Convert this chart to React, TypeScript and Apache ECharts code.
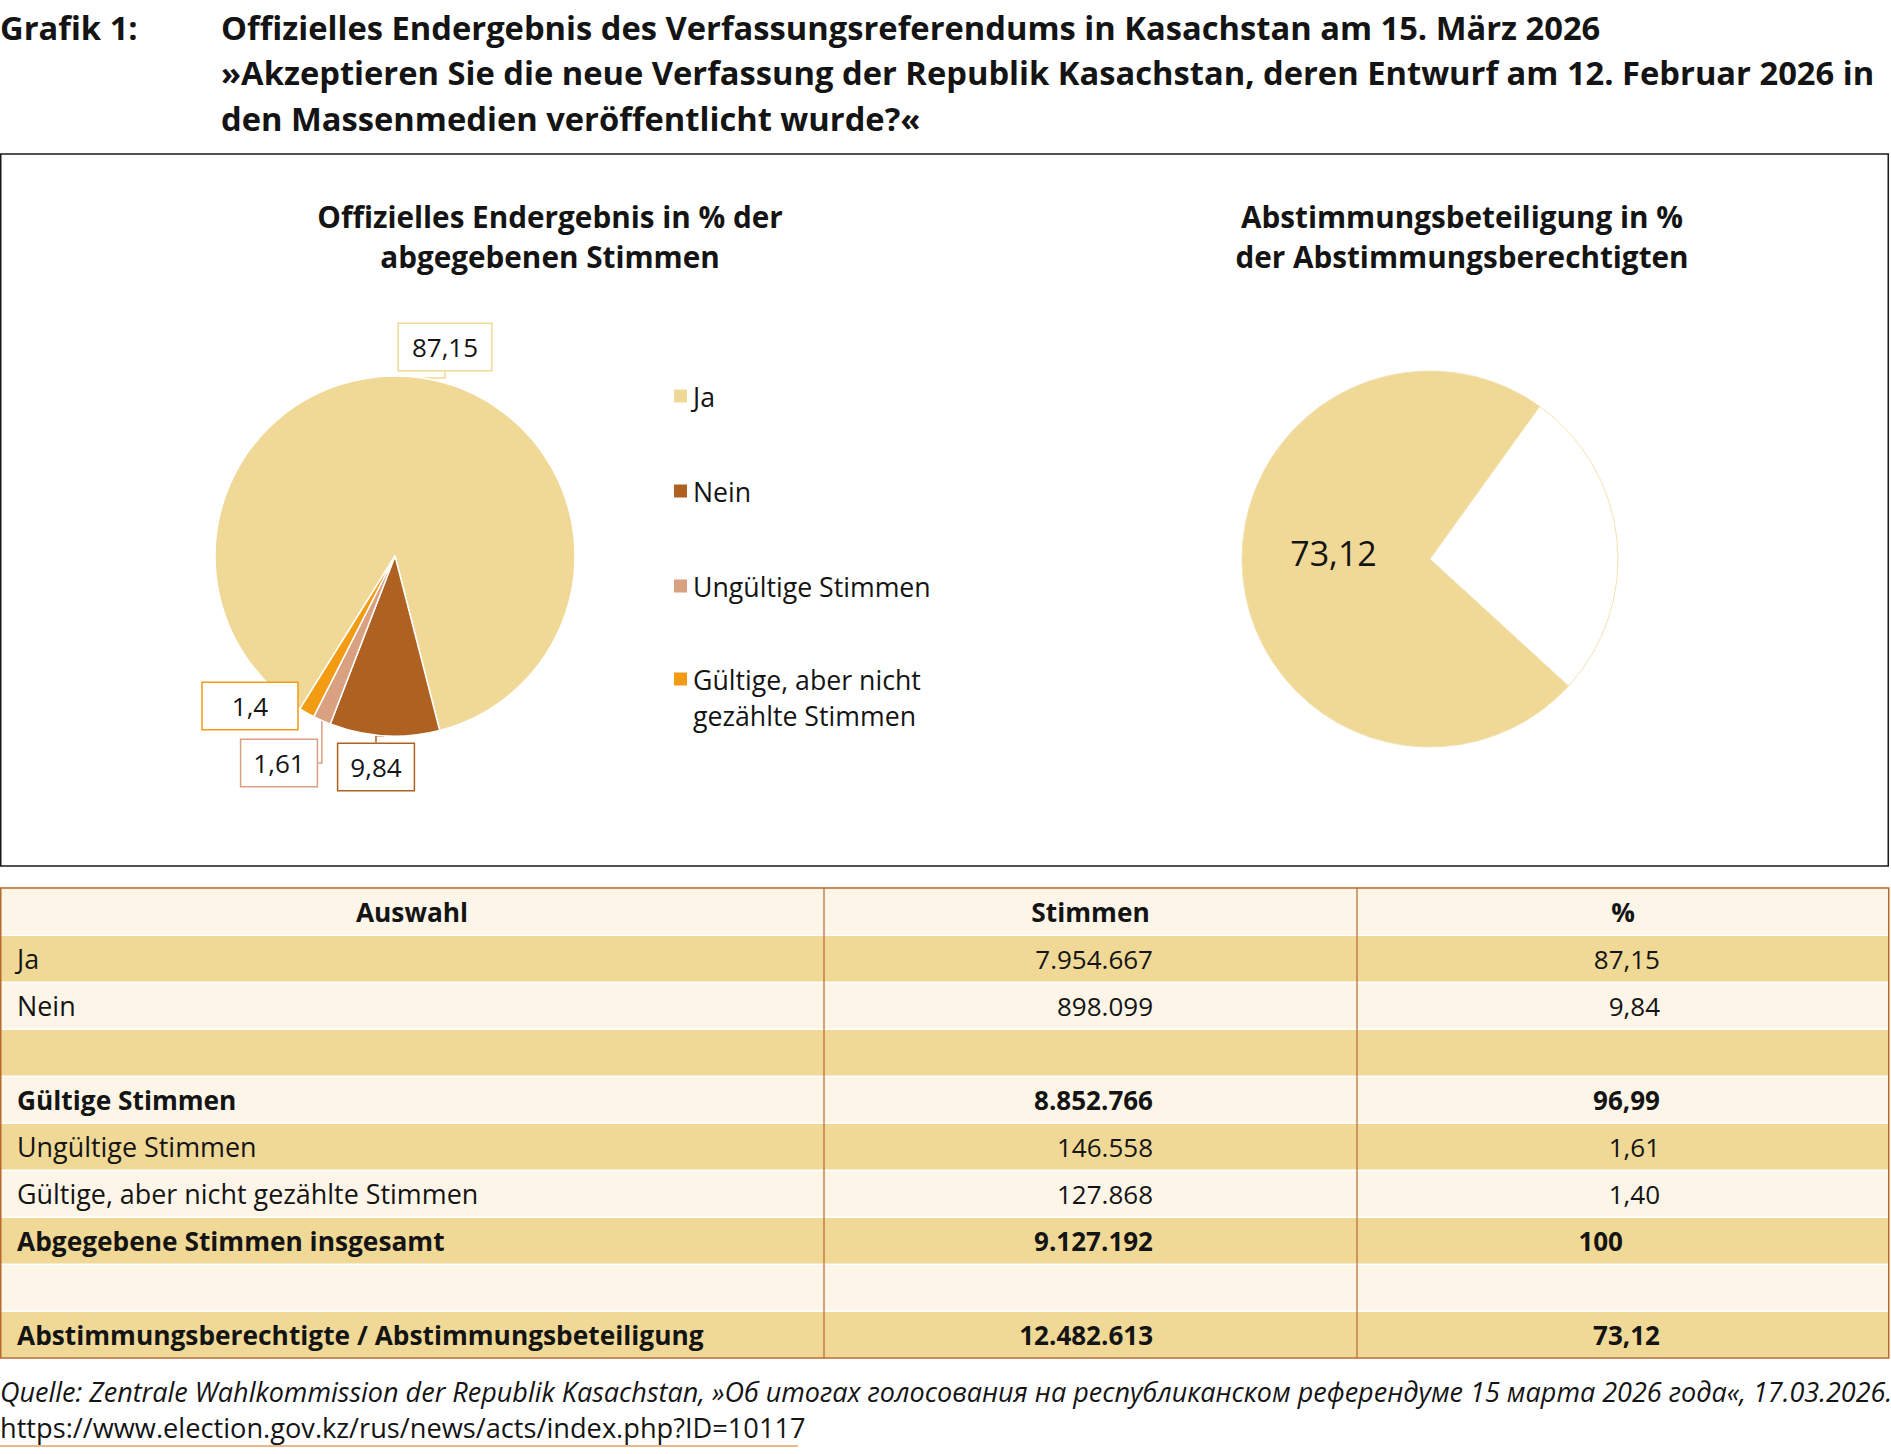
import React, { useEffect, useRef } from 'react';
import * as echarts from 'echarts';

const FONT = '"Open Sans", Lato, "Noto Sans", sans-serif';

const titlePrefix = 'Grafik 1:';
const titleLines = [
  'Offizielles Endergebnis des Verfassungsreferendums in Kasachstan am 15. März 2026',
  '»Akzeptieren Sie die neue Verfassung der Republik Kasachstan, deren Entwurf am 12. Februar 2026 in',
  'den Massenmedien veröffentlicht wurde?«',
];
const resultTitle = 'Offizielles Endergebnis in % der\nabgegebenen Stimmen';
const turnoutTitle = 'Abstimmungsbeteiligung in %\nder Abstimmungsberechtigten';

const resultNames = ['Ja', 'Nein', 'Ungültige Stimmen', 'Gültige, aber nicht gezählte Stimmen'];
const resultPercents = [87.15, 9.84, 1.61, 1.4];
const resultColors = ['#F0D996', '#AF6121', '#D9A17F', '#F29B13'];

const turnoutNames = ['Abstimmungsbeteiligung', 'Keine Beteiligung'];
const turnoutPercents = [73.12, 26.88];

const tableHeaders = ['Auswahl', 'Stimmen', '%'];
const tableLabels = [
  'Ja',
  'Nein',
  '',
  'Gültige Stimmen',
  'Ungültige Stimmen',
  'Gültige, aber nicht gezählte Stimmen',
  'Abgegebene Stimmen insgesamt',
  '',
  'Abstimmungsberechtigte / Abstimmungsbeteiligung',
];
const tableVotes = [7954667, 898099, null, 8852766, 146558, 127868, 9127192, null, 12482613];
const tablePercents = [87.15, 9.84, null, 96.99, 1.61, 1.4, 100, null, 73.12];
const tableBold = [false, false, false, true, false, false, true, false, true];

const sourceLine1 =
  'Quelle: Zentrale Wahlkommission der Republik Kasachstan, »Об итогах голосования на республиканском референдуме 15 марта 2026 года«, 17.03.2026.';
const sourceLine2 = 'https://www.election.gov.kz/rus/news/acts/index.php?ID=10117';

const GOLD = '#F0D996';
const CREAM = '#FDF6E8';
const BROWN = '#B8692C';
const INK = '#141414';

function fmtThousands(v: number): string {
  return String(v).replace(/\B(?=(\d{3})+(?!\d))/g, '.');
}
function fmtPct(v: number): string {
  return Number.isInteger(v) ? String(v) : v.toFixed(2).replace('.', ',');
}
function fmtShort(v: number): string {
  return String(v).replace('.', ',');
}

export default function App() {
  const ref = useRef<HTMLDivElement>(null);

  useEffect(() => {
    document.body.style.margin = '0';
    const chart = echarts.init(ref.current!, undefined, { renderer: 'svg' });

    const labelPos: [number, number][] = [
      [445, 347],
      [376, 767],
      [279, 763],
      [250, 706],
    ];
    const labelPad: number[][] = [
      [8, 13, 8, 13],
      [8, 12, 8, 12],
      [8, 12, 8, 12],
      [8, 29, 8, 29],
    ];

    const graphics: any[] = [];
    graphics.push({
      type: 'text', x: 0, y: 27,
      style: { text: titlePrefix, fontSize: 32.7, fontWeight: 'bold', fontFamily: FONT, fill: INK, align: 'left', verticalAlign: 'middle' },
    });
    titleLines.forEach((t, i) => {
      graphics.push({
        type: 'text', x: 221, y: 27 + i * 45.5,
        style: { text: t, fontSize: 32.7, fontWeight: 'bold', fontFamily: FONT, fill: INK, align: 'left', verticalAlign: 'middle' },
      });
    });
    graphics.push({
      type: 'rect', shape: { x: 0.75, y: 154, width: 1887.5, height: 712 },
      style: { fill: 'none', stroke: '#1a1a1a', lineWidth: 1.5 }, z: -1,
    });
    graphics.push({
      type: 'text', x: 550, y: 236,
      style: { text: resultTitle, fontSize: 29.7, lineHeight: 40, fontWeight: 'bold', fontFamily: FONT, fill: INK, align: 'center', verticalAlign: 'middle' },
    });
    graphics.push({
      type: 'text', x: 1462, y: 236,
      style: { text: turnoutTitle, fontSize: 29.7, lineHeight: 40, fontWeight: 'bold', fontFamily: FONT, fill: INK, align: 'center', verticalAlign: 'middle' },
    });

    const tTop = 888;
    const rowH = 47;
    const colX = [0, 824, 1357, 1889];
    graphics.push({
      type: 'rect', shape: { x: 0, y: tTop, width: 1889, height: rowH },
      style: { fill: CREAM },
    });
    tableLabels.forEach((_, i) => {
      graphics.push({
        type: 'rect', shape: { x: 0, y: tTop + rowH * (i + 1) + 1, width: 1889, height: rowH - 1.5 },
        style: { fill: i % 2 === 0 ? GOLD : CREAM },
      });
    });
    [colX[1], colX[2]].forEach((x) => {
      graphics.push({
        type: 'line', shape: { x1: x, y1: tTop, x2: x, y2: tTop + rowH * 10 },
        style: { stroke: BROWN, lineWidth: 1.2 },
      });
    });
    graphics.push({
      type: 'rect', shape: { x: 0.75, y: tTop, width: 1888, height: rowH * 10 },
      style: { fill: 'none', stroke: BROWN, lineWidth: 1.5 },
    });
    const headerCenters = [(colX[0] + colX[1]) / 2, (colX[1] + colX[2]) / 2, (colX[2] + colX[3]) / 2];
    tableHeaders.forEach((h, j) => {
      graphics.push({
        type: 'text', x: headerCenters[j], y: tTop + rowH / 2,
        style: { text: h, fontSize: 26.3, fontWeight: 'bold', fontFamily: FONT, fill: INK, align: 'center', verticalAlign: 'middle' },
      });
    });
    tableLabels.forEach((lab, i) => {
      const cy = tTop + rowH * (i + 1) + rowH / 2;
      const bold = tableBold[i];
      const fw = bold ? 'bold' : 'normal';
      const fs = bold ? 26.3 : 26.9;
      if (lab) {
        graphics.push({
          type: 'text', x: 17, y: cy,
          style: { text: lab, fontSize: fs, fontWeight: fw, fontFamily: FONT, fill: INK, align: 'left', verticalAlign: 'middle' },
        });
      }
      const v = tableVotes[i];
      if (v != null) {
        graphics.push({
          type: 'text', x: 1153, y: cy,
          style: { text: fmtThousands(v), fontSize: 26, fontWeight: fw, fontFamily: FONT, fill: INK, align: 'right', verticalAlign: 'middle' },
        });
      }
      const p = tablePercents[i];
      if (p != null) {
        graphics.push({
          type: 'text', x: Number.isInteger(p) ? 1623 : 1660, y: cy,
          style: { text: fmtPct(p), fontSize: 26, fontWeight: fw, fontFamily: FONT, fill: INK, align: 'right', verticalAlign: 'middle' },
        });
      }
    });

    graphics.push({
      type: 'text', x: 0, y: 1391,
      style: { text: sourceLine1, fontSize: 27, fontStyle: 'italic', fontFamily: FONT, fill: INK, align: 'left', verticalAlign: 'middle' },
    });
    graphics.push({
      type: 'text', x: 0, y: 1427,
      style: { text: sourceLine2, fontSize: 27.2, fontFamily: FONT, fill: INK, align: 'left', verticalAlign: 'middle' },
    });
    graphics.push({
      type: 'line', shape: { x1: 0, y1: 1446, x2: 798, y2: 1446 },
      style: { stroke: '#DFA262', lineWidth: 1.5 },
    });

    const option: any = {
      animation: false,
      backgroundColor: '#ffffff',
      textStyle: { fontFamily: FONT },
      legend: [
        {
          orient: 'vertical', left: 672, top: 381, padding: 0,
          itemWidth: 15, itemHeight: 15, itemGap: 65, icon: 'rect', selectedMode: false,
          data: resultNames.slice(0, 3),
          textStyle: { fontSize: 26.7, lineHeight: 30, color: INK, fontFamily: FONT },
        },
        {
          orient: 'vertical', left: 672, top: 625, padding: 0,
          itemWidth: 15, itemHeight: 15, icon: 'rect', selectedMode: false,
          data: [resultNames[3]],
          formatter: (n: string) => '\n' + n.replace('nicht ', 'nicht\n'),
          textStyle: { fontSize: 26.7, lineHeight: 36, color: INK, fontFamily: FONT },
        },
      ],
      series: [
        {
          type: 'pie',
          name: 'Ergebnis',
          center: [395, 556],
          radius: 180,
          startAngle: -121.9,
          clockwise: true,
          silent: true,
          itemStyle: { borderColor: '#ffffff', borderWidth: 1.5 },
          data: resultNames.map((n, i) => ({
            name: n,
            value: resultPercents[i],
            itemStyle: { color: resultColors[i] },
            label: { borderColor: resultColors[i], padding: labelPad[i] },
            labelLine: { lineStyle: { color: resultColors[i], width: 1.5 } },
          })),
          label: {
            show: true,
            position: 'outside',
            formatter: (p: any) => fmtShort(p.value),
            fontSize: 26,
            lineHeight: 30,
            color: INK,
            fontFamily: FONT,
            backgroundColor: '#ffffff',
            borderWidth: 1.5,
          },
          labelLine: { show: true, length: 8, length2: 8, smooth: false },
          labelLayout: (p: any) => {
            const pos = labelPos[p.dataIndex];
            return { x: pos[0], y: pos[1], align: 'center', verticalAlign: 'middle', hideOverlap: false };
          },
        },
        {
          type: 'pie',
          name: 'Beteiligung',
          center: [1430, 559],
          radius: 188,
          startAngle: -42.5,
          clockwise: true,
          silent: true,
          itemStyle: { borderColor: '#F3E2B0', borderWidth: 1 },
          data: turnoutNames.map((n, i) => ({
            name: n,
            value: turnoutPercents[i],
            itemStyle: { color: i === 0 ? GOLD : '#ffffff' },
            label: { show: i === 0 },
          })),
          label: {
            position: 'inside',
            formatter: (p: any) => fmtShort(p.value),
            fontSize: 34,
            color: INK,
            fontFamily: FONT,
          },
          labelLine: { show: false },
          labelLayout: { dy: -16 },
        },
      ],
      graphic: { elements: graphics },
    };

    chart.setOption(option);
    return () => chart.dispose();
  }, []);

  return <div ref={ref} style={{ width: 1891, height: 1454 }} />;
}
